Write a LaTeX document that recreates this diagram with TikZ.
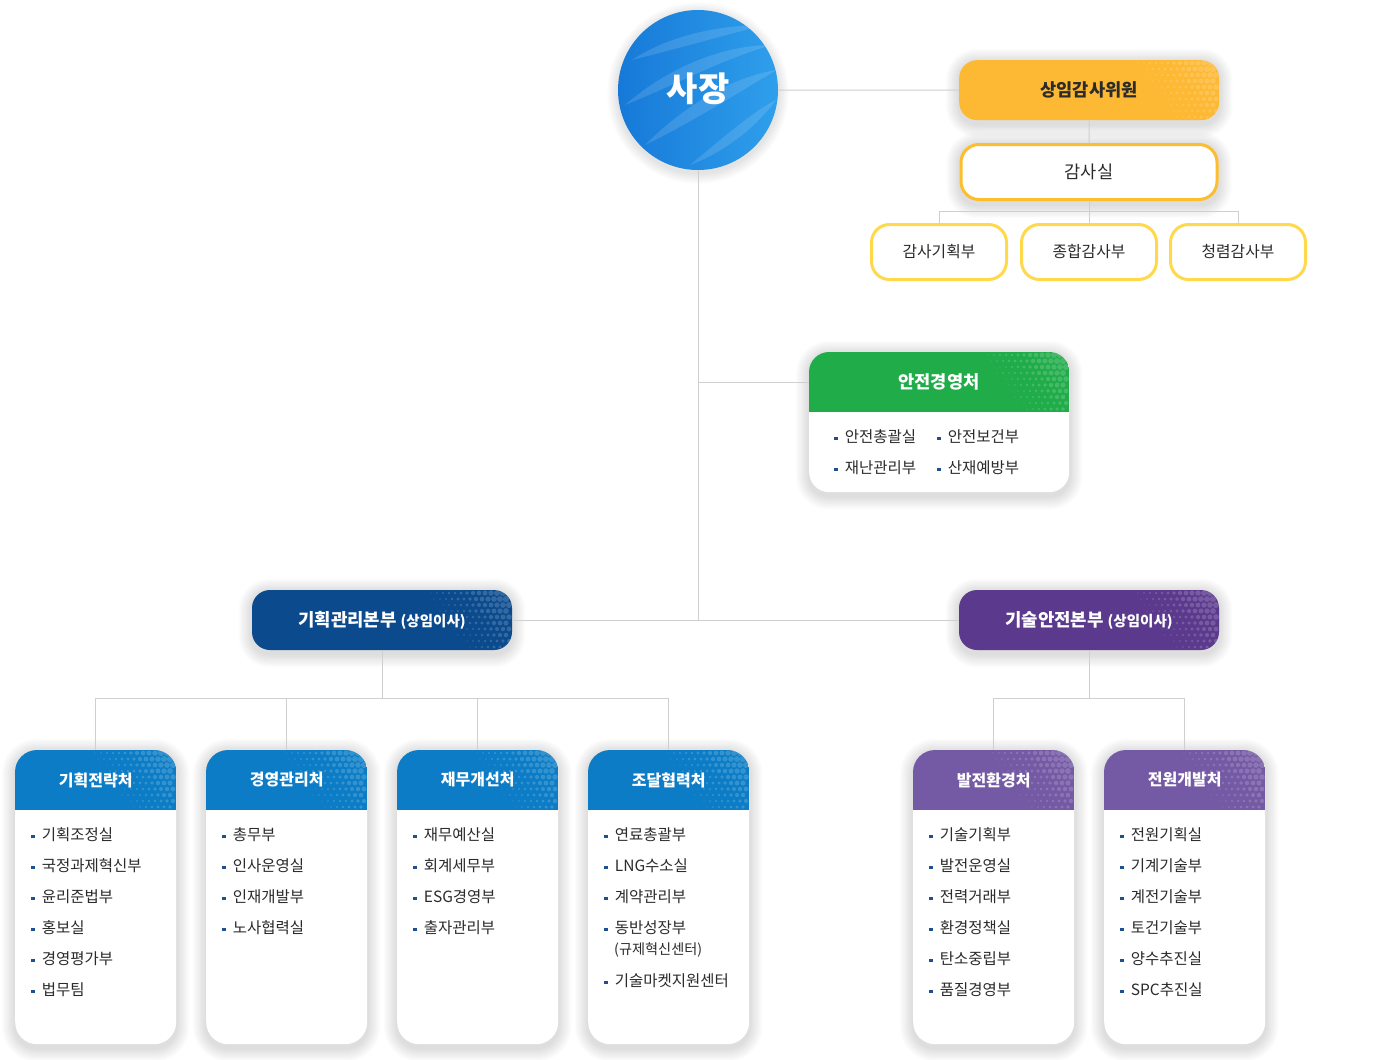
\documentclass[tikz,border=0pt]{standalone}
\usepackage{fontspec}
\setmainfont{Noto Sans CJK KR}
\usetikzlibrary{calc}
\pgfdeclarelayer{back}
\pgfdeclarelayer{bg}
\pgfsetlayers{back,bg,main}
\definecolor{lineg}{HTML}{CFCFCF}
\definecolor{txt}{HTML}{2B2B2B}
\definecolor{orgY}{HTML}{FDB933}
\definecolor{audB}{HTML}{FCBD2F}
\definecolor{subY}{HTML}{FFD84C}
\definecolor{safeG}{HTML}{21AC4A}
\definecolor{hqB}{HTML}{0B4A8D}
\definecolor{hqP}{HTML}{5B3A8D}
\definecolor{dB}{HTML}{0B7CC5}
\definecolor{dP}{HTML}{7459A4}
\definecolor{bulc}{HTML}{1E4F90}
\definecolor{ceoA}{HTML}{1679D8}
\definecolor{ceoB}{HTML}{2F9FEB}

\newcommand{\bul}{\textcolor{bulc}{\raisebox{2.6pt}{\rule{3.3pt}{3.3pt}}}\hspace{7.4pt}}

% halftone dots: #1 right x, #2 top y
\newcommand{\halftone}[2]{%
  \foreach \i in {0,...,15}{\foreach \j in {0,...,10}{%
    \pgfmathsetmacro{\rr}{3.4*(1-(6*\i+4.5*\j)/95)}%
    \pgfmathsetmacro{\xx}{#1-3-6*\i-3*mod(\j,2)}%
    \pgfmathsetmacro{\yy}{#2+3+6*\j}%
    \ifdim\rr pt>0.5pt \fill[white,opacity=0.17] (\xx,\yy) circle (\rr pt);\fi
  }}}

% soft shadow behind a rounded node: #1 node, #2 radius
\newcommand{\softshadow}[2]{%
  \begin{pgfonlayer}{bg}
  \foreach \k in {1,...,11}{%
    \fill[black,opacity=0.011,rounded corners={#2+\k*1.2pt}]
      ([xshift=-\k*1.2pt,yshift={\k*1.2pt-2pt}]#1.north west) rectangle
      ([xshift=\k*1.2pt,yshift={-\k*1.2pt-4pt}]#1.south east);
  }
  \end{pgfonlayer}}

% department box: #1 name, #2 left x, #3 colour, #4 title
\newcommand{\dept}[4]{%
  \node[deptbox, anchor=north west] (#1) at (#2,750) {};
  \begin{scope}
    \clip[rounded corners=22pt] (#1.north west) rectangle (#1.south east);
    \clip (#1.north west) rectangle ($(#1.north east)+(0,60)$);
    \fill[#3] (#1.north west) rectangle ($(#1.north east)+(0,60)$);
    \halftone{#2+161}{750}
  \end{scope}
  \node[depttitle] (#1h) at ($(#1.north)+(0,30)$) {#4};
  \softshadow{#1}{22pt}
}

\tikzset{
  conn/.style={draw=lineg, line width=1pt},
  pill/.style={rounded corners=18pt, minimum width=260pt, minimum height=60pt, inner sep=0pt,
    text=white, font=\fontsize{16.5}{20}\selectfont\bfseries},
  subbox/.style={draw=subY, line width=3pt, fill=white, rounded corners=18pt,
    minimum width=135pt, minimum height=55pt, inner sep=0pt, text=txt,
    font=\fontsize{15.8}{18}\selectfont},
  deptbox/.style={fill=white, rounded corners=22pt, minimum width=161pt,
    minimum height=294pt, inner sep=0pt},
  depttitle/.style={minimum width=161pt, minimum height=60pt, inner sep=0pt,
    text=white, font=\fontsize{16}{19}\selectfont\bfseries},
  item/.style={anchor=west, inner sep=0pt, text=txt, font=\fontsize{15.5}{18}\selectfont},
  subitem/.style={anchor=west, inner sep=0pt, text=txt, font=\fontsize{14.2}{17}\selectfont},
}

\begin{document}
\begin{tikzpicture}[x=1pt,y=-1pt]
\begin{pgfonlayer}{back}
\fill[white] (0,0) rectangle (1400,1060);
\end{pgfonlayer}
\useasboundingbox (0,0) rectangle (1400,1060);

% ---------- CEO ----------
\node[circle, minimum size=160pt, inner sep=0pt, left color=ceoA, right color=ceoB] (ceo) at (698,90) {};
\begin{pgfonlayer}{bg}
  \foreach \k in {1,...,9}{\fill[black,opacity=0.012] (698,93) circle ({80pt+\k*1.2pt});}
\end{pgfonlayer}
\begin{scope}
  \clip (698,90) circle (80pt);
  \fill[white,opacity=0.13] (632,60) .. controls (670,35) and (720,25) .. (765,25) .. controls (725,35) and (680,48) .. cycle;
  \fill[white,opacity=0.13] (625,105) .. controls (665,70) and (720,45) .. (772,45) .. controls (725,58) and (675,85) .. cycle;
  \fill[white,opacity=0.13] (645,145) .. controls (690,100) and (740,75) .. (777,70) .. controls (745,88) and (700,118) .. cycle;
  \fill[white,opacity=0.13] (690,165) .. controls (720,140) and (755,110) .. (776,100) .. controls (760,122) and (730,150) .. cycle;
\end{scope}
\node[text=white, font=\fontsize{34}{38}\selectfont\bfseries] (ceot) at (698,89) {사장};

% ---------- Audit ----------
\node[pill, fill=orgY, text=txt, anchor=north west] (aud) at (959,60) {};
\begin{scope}
  \clip[rounded corners=18pt] (aud.north west) rectangle (aud.south east);
  \halftone{1219}{60}
\end{scope}
\node[text=txt, font=\fontsize{17.6}{21}\selectfont\bfseries] (audt) at (1089,90) {상임감사위원};
\softshadow{aud}{18pt}

\node[draw=audB, line width=3pt, fill=white, rounded corners=18pt, minimum width=256pt,
  minimum height=55pt, inner sep=0pt, text=txt, font=\fontsize{17.6}{21}\selectfont] (audoff) at (1089,172) {감사실};
\softshadow{audoff}{18pt}

\node[subbox] (a1) at (939,252) {감사기획부};
\node[subbox] (a2) at (1089,252) {종합감사부};
\node[subbox] (a3) at (1238,252) {청렴감사부};

% ---------- Safety ----------
\node[fill=white, rounded corners=20pt, minimum width=260pt, minimum height=140pt, inner sep=0pt, anchor=north west] (sf) at (809,352) {};
\begin{scope}
  \clip[rounded corners=20pt] (sf.north west) rectangle (sf.south east);
  \clip (sf.north west) rectangle ($(sf.north east)+(0,60)$);
  \fill[safeG] (sf.north west) rectangle ($(sf.north east)+(0,60)$);
  \halftone{1069}{352}
\end{scope}
\node[minimum width=260pt, minimum height=60pt, inner sep=0pt, text=white,
  font=\fontsize{17.6}{21}\selectfont\bfseries] (sfh) at (939,382) {안전경영처};
\softshadow{sf}{20pt}
\node[item] (sf1) at (834,437) {\bul 안전총괄실};
\node[item] (sf2) at (937,437) {\bul 안전보건부};
\node[item] (sf3) at (834,468) {\bul 재난관리부};
\node[item] (sf4) at (937,468) {\bul 산재예방부};

% ---------- HQs ----------
\node[pill, fill=hqB] (hq1) at (382,620) {};
\begin{scope}
  \clip[rounded corners=18pt] (hq1.north west) rectangle (hq1.south east);
  \halftone{512}{590}
\end{scope}
\node[text=white, font=\fontsize{17.8}{21}\selectfont\bfseries] (hq1t) at (382,620) {기획관리본부 {\fontsize{14.5}{17}\selectfont(상임이사)}};
\softshadow{hq1}{18pt}

\node[pill, fill=hqP] (hq2) at (1089,620) {};
\begin{scope}
  \clip[rounded corners=18pt] (hq2.north west) rectangle (hq2.south east);
  \halftone{1219}{590}
\end{scope}
\node[text=white, font=\fontsize{17.8}{21}\selectfont\bfseries] (hq2t) at (1089,620) {기술안전본부 {\fontsize{14.5}{17}\selectfont(상임이사)}};
\softshadow{hq2}{18pt}

% ---------- Departments ----------
\dept{p1}{15}{dB}{기획전략처}
\dept{p2}{206}{dB}{경영관리처}
\dept{p3}{397}{dB}{재무개선처}
\dept{p4}{588}{dB}{조달협력처}
\dept{p5}{913}{dP}{발전환경처}
\dept{p6}{1104}{dP}{전원개발처}

\foreach \t [count=\k] in {기획조정실,국정과제혁신부,윤리준법부,홍보실,경영평가부,법무팀}
  \node[item] (p1i\k) at (31,{835+31*(\k-1)}) {\bul\t};
\foreach \t [count=\k] in {총무부,인사운영실,인재개발부,노사협력실}
  \node[item] (p2i\k) at (222,{835+31*(\k-1)}) {\bul\t};
\foreach \t [count=\k] in {재무예산실,회계세무부,ESG경영부,출자관리부}
  \node[item] (p3i\k) at (413,{835+31*(\k-1)}) {\bul\t};
\foreach \t [count=\k] in {연료총괄부,LNG수소실,계약관리부,동반성장부}
  \node[item] (p4i\k) at (604,{835+31*(\k-1)}) {\bul\t};
\node[subitem] (p4i4b) at (614,950) {(규제혁신센터)};
\node[item] (p4i5) at (604,981) {\bul 기술마켓지원센터};
\foreach \t [count=\k] in {기술기획부,발전운영실,전력거래부,환경정책실,탄소중립부,품질경영부}
  \node[item] (p5i\k) at (929,{835+31*(\k-1)}) {\bul\t};
\foreach \t [count=\k] in {전원기획실,기계기술부,계전기술부,토건기술부,양수추진실,SPC추진실}
  \node[item] (p6i\k) at (1120,{835+31*(\k-1)}) {\bul\t};

% ---------- Connectors ----------
\draw[conn] (ceo.east) -- (aud.west);
\draw[conn] (aud.south) -- (audoff.north);
\coordinate (ja) at (1089,211);
\draw[conn] (audoff.south) -- (ja);
\draw[conn] (a1.north) -- (a1.north |- ja) -- (a3.north |- ja) -- (a3.north);
\draw[conn] (a2.north) -- (a2.north |- ja);
\draw[conn] (ceo.south) -- (ceo.south |- hq1.east);
\draw[conn] (ceo.south |- sfh.west) -- (sfh.west);
\draw[conn] (hq1.east) -- (hq2.west);
\coordinate (jl) at (382,698);
\draw[conn] (hq1.south) -- (jl);
\draw[conn] (p1.north) -- (p1.north |- jl) -- (p4.north |- jl) -- (p4.north);
\draw[conn] (p2.north) -- (p2.north |- jl);
\draw[conn] (p3.north) -- (p3.north |- jl);
\coordinate (jr) at (1089,698);
\draw[conn] (hq2.south) -- (jr);
\draw[conn] (p5.north) -- (p5.north |- jr) -- (p6.north |- jr) -- (p6.north);
\end{tikzpicture}
\end{document}
